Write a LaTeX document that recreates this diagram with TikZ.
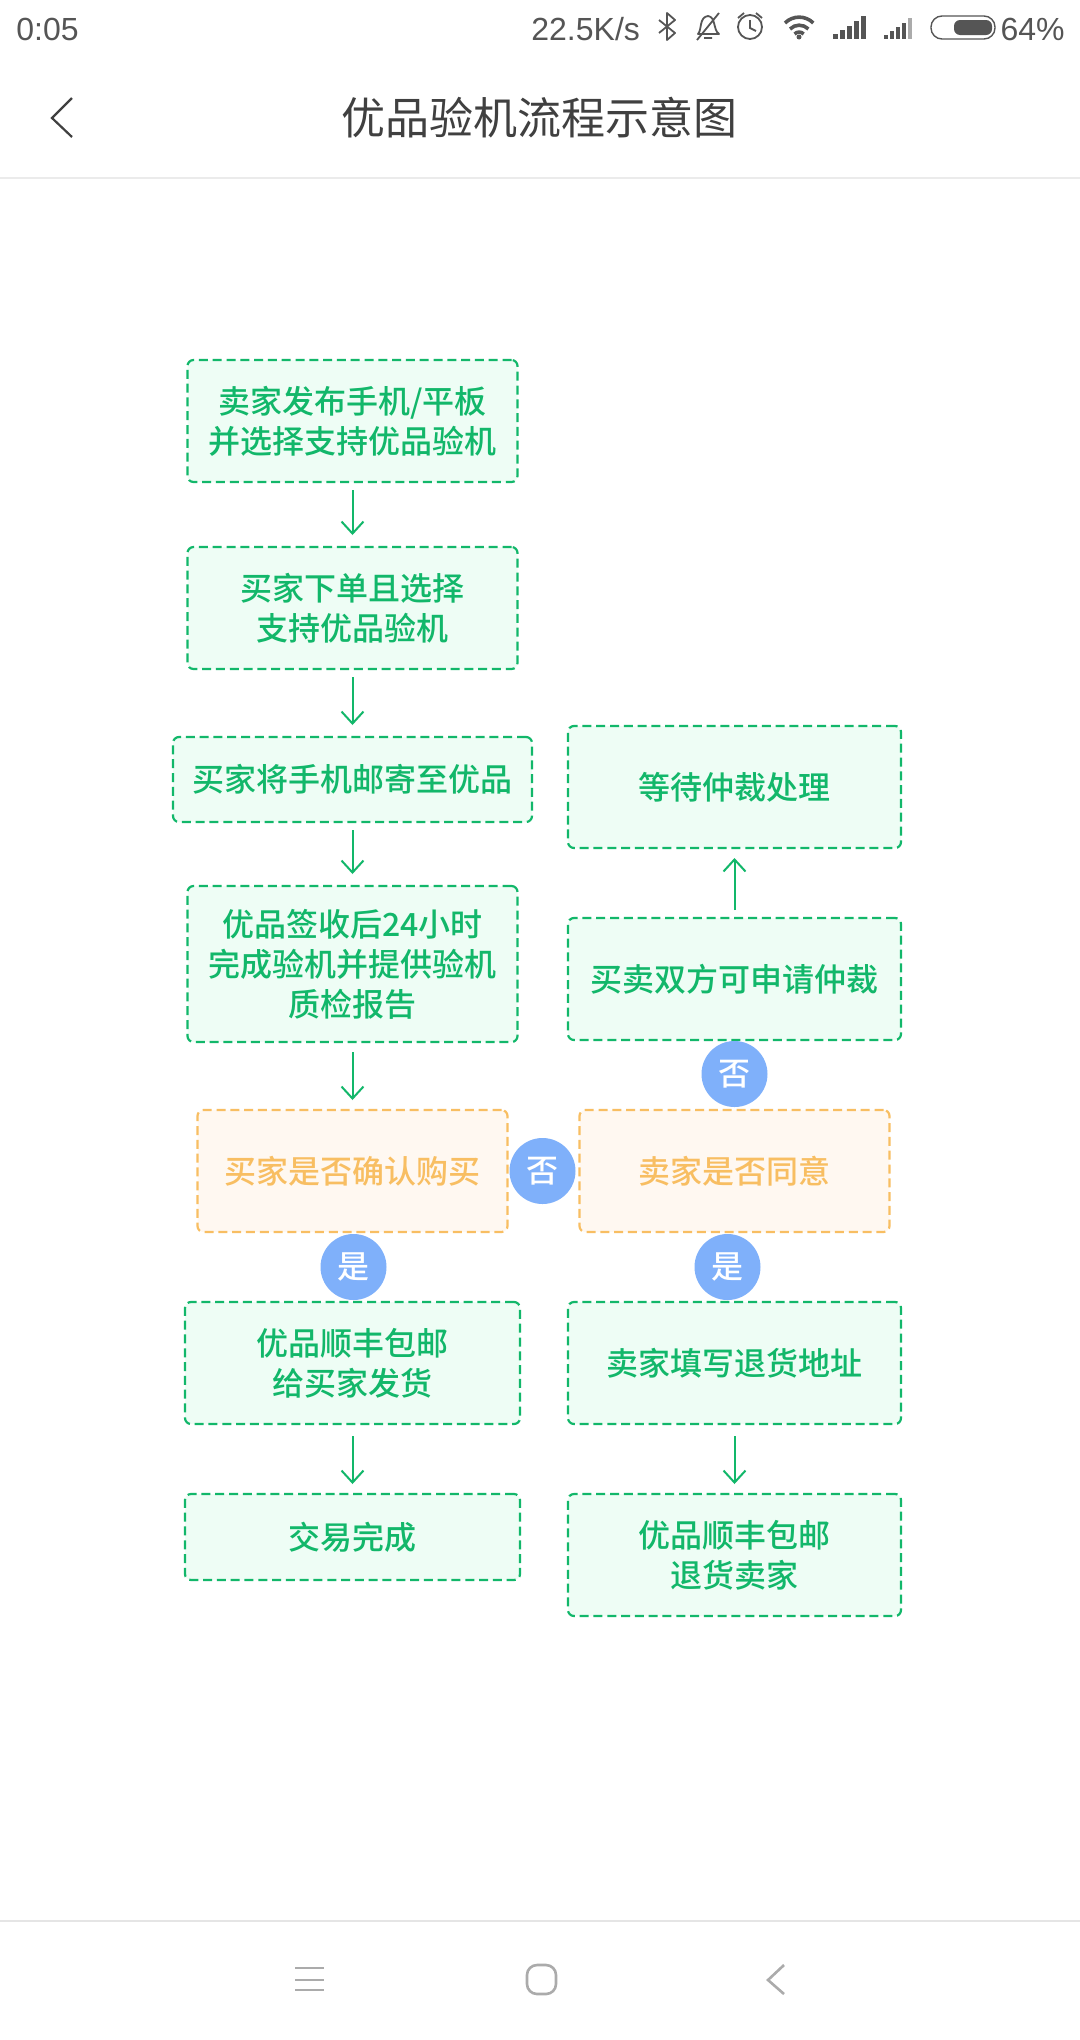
\documentclass[tikz,border=0pt]{standalone}
\usepackage{fontspec}
\setmainfont{Liberation Sans}
\newfontfamily\cjkfont{Noto Sans CJK SC}
\newfontfamily\cjkmedium{Noto Sans CJK SC Medium}
\usetikzlibrary{positioning,arrows.meta}
\definecolor{flowgreen}{HTML}{12B76A}
\definecolor{flowfill}{HTML}{EEFDF5}
\definecolor{askorange}{HTML}{F8BE62}
\definecolor{askfill}{HTML}{FFF8F1}
\definecolor{badgeblue}{HTML}{7FB0FA}
\definecolor{barink}{HTML}{555555}
\definecolor{navink}{HTML}{ABABAB}
\tikzset{
	flowbox/.style={draw=flowgreen, fill=flowfill, text=flowgreen, line width=1.1pt, dash pattern=on 4.5pt off 2.4pt, rounded corners=3pt, inner sep=0pt, outer sep=0pt, minimum width=165pt, minimum height=61pt, align=center, font=\cjkmedium\fontsize{16}{20}\selectfont}, % green step
	askbox/.style={flowbox, draw=askorange, fill=askfill, text=askorange, minimum width=155pt}, % orange question
	badge/.style={circle, fill=badgeblue, text=white, inner sep=0pt, outer sep=0pt, minimum size=33pt, font=\cjkmedium\fontsize{16}{20}\selectfont},
	flowarrow/.style={-{Straight Barb[length=6pt,width=11pt]}, draw=flowgreen, line width=1pt, shorten <=4pt, shorten >=6pt},
	bartext/.style={text=barink, inner sep=0pt, font=\fontsize{16}{16}\selectfont},
	navline/.style={draw=navink, line width=1.3pt},
}
\begin{document}
\begin{tikzpicture}[x=0.5pt,y=-0.5pt]
	\useasboundingbox[fill=white] (0,0) rectangle (1080,2040);
	% status bar
	\node[bartext,anchor=west] (clock) at (16,29) {0:05};
	\node[bartext,anchor=west] (speed) at (531,29) {22.5K/s};
	\node[bartext,anchor=east] (level) at (1065,29) {64\%};
	\draw[barink,line width=0.9pt,line join=round] (659,20) -- (675,33) -- (667,40) -- (667,13) -- (675,20) -- (659,33); % bluetooth
	\draw[barink,line width=0.9pt,line join=round] (698,34) .. controls (702,30) and (699,17) .. (708,16) .. controls (716,17) and (713,30) .. (719,34) -- cycle (704,38) -- (712,38) (697,40) -- (719,13); % bell
	\draw[barink,line width=0.9pt] (750,27) circle (12) (750,20) -- (750,28) -- (756,31) (738,18) -- (744,13) (756,13) -- (762,18); % alarm
	\draw[barink,line width=1.8pt] (785,23) arc (225:315:20) (790,29) arc (225:315:13) (794.5,34) arc (225:315:6.5);
	\fill[barink] (799,37) circle (2.5);
	\foreach \i/\h in {0/5,1/9,2/13,3/18,4/23} {
		\fill[barink] (833+\i*7,39) rectangle ++(5,-\h);
		\fill[barink] (884+\i*6,39) rectangle ++(4,-\h*0.9);
	}
	\fill[navink] (908,39) rectangle ++(4,-20.7);
	\draw[barink,line width=0.7pt,rounded corners=5.5pt] (931,16) rectangle (995,39);
	\fill[barink,rounded corners=3pt] (954,20) rectangle (992,35);
	% title bar
	\draw[black!75,line width=1.1pt] (72,98) -- (52,118) -- (72,137);
	\node[text=black!75,inner sep=0pt,font=\cjkfont\fontsize{22}{22}\selectfont] (title) at (539,118) {优品验机流程示意图};
	\draw[black!8,line width=1pt] (0,178) -- (1080,178);
	% left column
	\node[flowbox] (publish) at (352.5,421) {卖家发布手机/平板\\并选择支持优品验机};
	\node[flowbox,below=32.5pt of publish] (order) {买家下单且选择\\支持优品验机};
	\node[flowbox,below=34pt of order,minimum width=179.5pt,minimum height=42.5pt] (mail) {买家将手机邮寄至优品};
	\node[flowbox,below=32pt of mail,minimum height=78pt] (check) {优品签收后24小时\\完成验机并提供验机\\质检报告};
	\node[askbox,below=34pt of check] (confirm) {买家是否确认购买};
	\node[flowbox,below=35pt of confirm,minimum width=167.5pt] (ship) {优品顺丰包邮\\给买家发货};
	\node[flowbox,below=35pt of ship,minimum width=167.5pt,minimum height=43pt] (done) {交易完成};
	% right column
	\node[askbox,right=36pt of confirm] (agree) {卖家是否同意};
	\node[flowbox,above=35pt of agree,minimum width=166.5pt] (apply) {买卖双方可申请仲裁};
	\node[flowbox,above=35pt of apply,minimum width=166.5pt] (wait) {等待仲裁处理};
	\node[flowbox,below=35pt of agree,minimum width=166.5pt] (address) {卖家填写退货地址};
	\node[flowbox,below=35pt of address,minimum width=166.5pt] (refund) {优品顺丰包邮\\退货卖家};
	% badges
	\node[badge,below=1pt of confirm,xshift=0.5pt] (yesbuy) {是};
	\node[badge,right=1pt of confirm] (nobuy) {否};
	\node[badge,below=1pt of agree,xshift=-3.5pt] (yesagree) {是};
	\node[badge,below=0.5pt of apply] (noagree) {否};
	% arrows
	\draw[flowarrow] (publish.south) -- (order.north);
	\draw[flowarrow] (order.south) -- (mail.north);
	\draw[flowarrow] (mail.south) -- (check.north);
	\draw[flowarrow,shorten <=5pt,shorten >=5pt] (check.south) -- (confirm.north);
	\draw[flowarrow,shorten <=6pt,shorten >=5pt] (ship.south) -- (done.north);
	\draw[flowarrow,shorten <=6pt,shorten >=5pt] (address.south) -- (refund.north);
	\draw[flowarrow,shorten <=4pt,shorten >=5pt] (apply.north) -- (wait.south);
	% navigation bar
	\draw[black!10,line width=1pt] (0,1921) -- (1080,1921);
	\draw[navline] (295,1968) -- (324,1968) (295,1980) -- (324,1980) (295,1990) -- (324,1990);
	\draw[navline,rounded corners=5pt] (527,1965) rectangle (556,1994);
	\draw[navline] (784,1965) -- (768,1980) -- (784,1994);
\end{tikzpicture}
\end{document}
